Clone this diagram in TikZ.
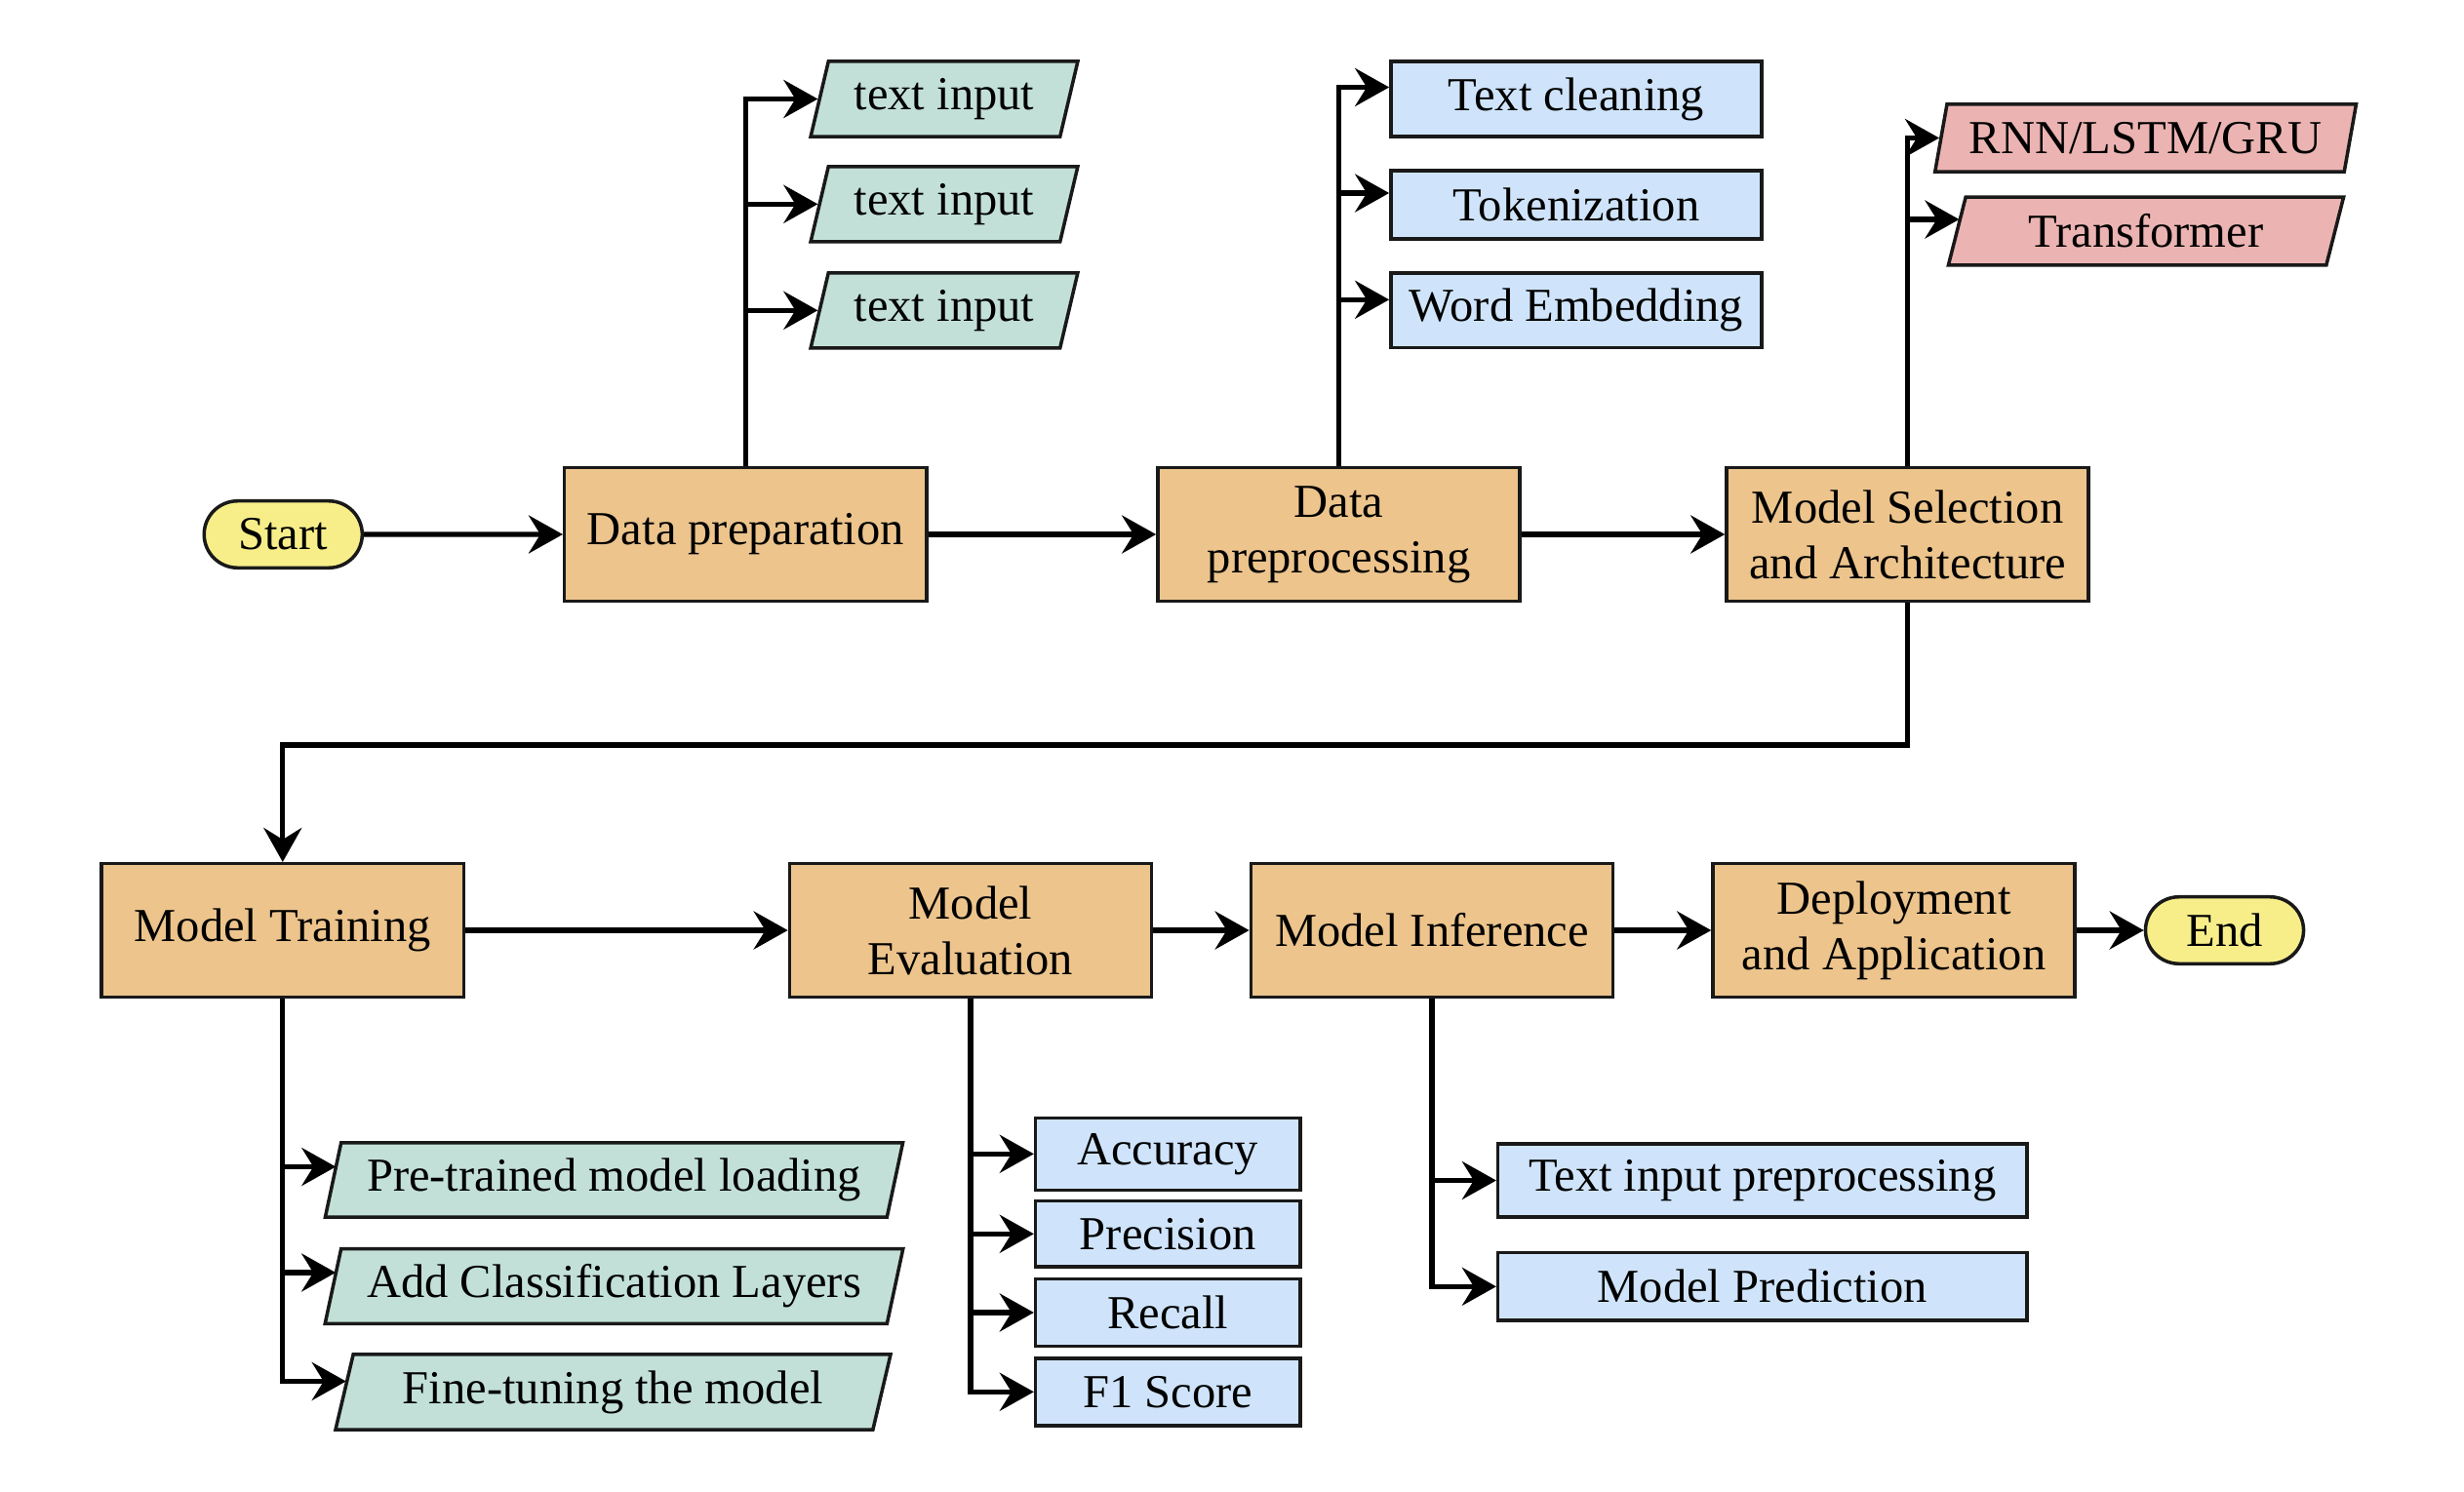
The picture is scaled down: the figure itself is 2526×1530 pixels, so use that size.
\documentclass[tikz,border=0pt]{standalone}
\usepackage{fontspec}
\setmainfont{Liberation Serif}
\usetikzlibrary{shapes.geometric,shapes.misc,arrows.meta}
\definecolor{cOrange}{HTML}{ECC48C}
\definecolor{cTeal}{HTML}{C2E0D8}
\definecolor{cBlue}{HTML}{CFE4FA}
\definecolor{cRed}{HTML}{EBB4B2}
\definecolor{cYellow}{HTML}{F7EE8A}
\begin{document}
\begin{tikzpicture}[x=0.01cm,y=-0.01cm,
  font=\fontsize{13.8}{16.2}\selectfont,
  base/.style={draw=black!90, line width=1pt, inner sep=0pt, align=center},
  mainbox/.style={base, rectangle, fill=cOrange, minimum width=3.71cm, minimum height=1.365cm},
  term/.style={base, rounded rectangle, fill=cYellow, minimum width=1.62cm, minimum height=0.685cm},
  para/.style={base, trapezium, trapezium left angle=71.6, trapezium right angle=108.4, trapezium stretches=true},
  tealpara/.style={para, fill=cTeal},
  redpara/.style={para, fill=cRed},
  bluebox/.style={base, rectangle, fill=cBlue},
  conn/.style={line width=1.45pt, -{Stealth[length=0.35cm,width=0.39cm,inset=0.12cm]}}
]
\useasboundingbox (0,0) rectangle (2526,1530);

% main row 1
\node[term] (start) at (290.3,548) {Start};
\node[mainbox] (dprep) at (764.3,548) {Data preparation};
\node[mainbox] (dpre) at (1372.5,548) {Data\\preprocessing};
\node[mainbox] (msel) at (1955.6,548) {Model Selection\\and Architecture};

% top branches
\node[tealpara, minimum width=2.74cm, minimum height=0.77cm] (ti1) at (968,101.5) {text input};
\node[tealpara, minimum width=2.74cm, minimum height=0.77cm] (ti2) at (968,209.3) {text input};
\node[tealpara, minimum width=2.74cm, minimum height=0.77cm] (ti3) at (968,318.3) {text input};

\node[bluebox, minimum width=3.8cm, minimum height=0.77cm] (tc) at (1616,101.5) {Text cleaning};
\node[bluebox, minimum width=3.8cm, minimum height=0.70cm] (tok) at (1616,210) {Tokenization};
\node[bluebox, minimum width=3.8cm, minimum height=0.765cm] (we) at (1616,318.3) {Word Embedding};

\node[redpara, minimum width=4.32cm, minimum height=0.69cm] (rnn) at (2199.6,141.5) {RNN/LSTM/GRU};
\node[redpara, minimum width=4.06cm, minimum height=0.695cm] (trf) at (2200,237) {Transformer};

% main row 2
\node[mainbox] (mt) at (289.8,954) {Model Training};
\node[mainbox] (meval) at (995,954) {Model\\Evaluation};
\node[mainbox] (minf) at (1468,954) {Model Inference};
\node[mainbox] (dep) at (1941.6,954) {Deployment\\and Application};
\node[term] (endn) at (2280.5,954) {End};

% bottom branches
\node[tealpara, minimum width=5.93cm, minimum height=0.76cm] (pt) at (629.5,1210) {Pre-trained model loading};
\node[tealpara, minimum width=5.93cm, minimum height=0.765cm] (acl) at (629.5,1319) {Add Classification Layers};
\node[tealpara, minimum width=5.69cm, minimum height=0.77cm] (ft) at (628.5,1427.5) {Fine-tuning the model};

\node[bluebox, minimum width=2.71cm, minimum height=0.74cm] (acc) at (1197.2,1183.3) {Accuracy};
\node[bluebox, minimum width=2.71cm, minimum height=0.675cm] (prec) at (1197.2,1265.3) {Precision};
\node[bluebox, minimum width=2.71cm, minimum height=0.685cm] (rec) at (1197.2,1346) {Recall};
\node[bluebox, minimum width=2.71cm, minimum height=0.69cm] (f1) at (1197.2,1427.3) {F1 Score};

\node[bluebox, minimum width=5.42cm, minimum height=0.75cm] (tip) at (1806.8,1210.5) {Text input preprocessing};
\node[bluebox, minimum width=5.42cm, minimum height=0.695cm] (mp) at (1806.8,1319.3) {Model Prediction};

\coordinate (bend) at (1955.6,764);

% main flow
\draw[conn] (start) -- (dprep);
\draw[conn] (dprep) -- (dpre);
\draw[conn] (dpre) -- (msel);
\draw[conn] (msel.south) -- (bend) -| (mt.north);
\draw[conn] (mt) -- (meval);
\draw[conn] (meval) -- (minf);
\draw[conn] (minf) -- (dep);
\draw[conn] (dep) -- (endn);

% top branch connectors
\draw[conn] (dprep.north) |- (ti1.west);
\draw[conn] (dprep.north) |- (ti2.west);
\draw[conn] (dprep.north) |- (ti3.west);
\draw[conn] (dpre.north) |- ([yshift=0.12cm]tc.west);
\draw[conn] (dpre.north) |- ([yshift=0.12cm]tok.west);
\draw[conn] (dpre.north) |- ([yshift=0.11cm]we.west);
\draw[conn] (msel.north) |- (rnn.west);
\draw[conn] (msel.north) |- ([xshift=0.04cm,yshift=0.12cm]trf.west);

% bottom branch connectors
\draw[conn] (mt.south) |- ([xshift=0.045cm,yshift=0.135cm]pt.west);
\draw[conn] (mt.south) |- ([xshift=0.045cm,yshift=0.14cm]acl.west);
\draw[conn] (mt.south) |- ([xshift=0.035cm,yshift=0.11cm]ft.west);
\draw[conn] (meval.south) |- (acc.west);
\draw[conn] (meval.south) |- (prec.west);
\draw[conn] (meval.south) |- (rec.west);
\draw[conn] (meval.south) |- (f1.west);
\draw[conn] (minf.south) |- (tip.west);
\draw[conn] (minf.south) |- (mp.west);
\end{tikzpicture}
\end{document}
